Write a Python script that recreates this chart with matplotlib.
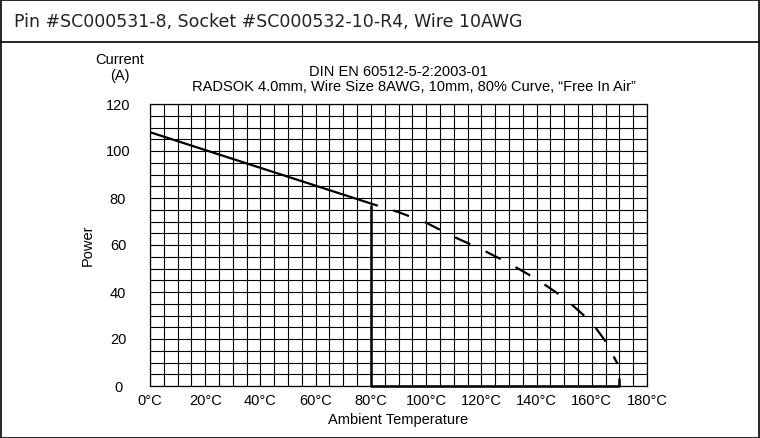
import matplotlib.pyplot as plt
from matplotlib.patches import Rectangle
from matplotlib.lines import Line2D

# Data
temp_solid = [0, 82.5]
current_solid = [108, 76.7]

temp_dashed = [82.5, 90, 100, 110, 120, 130, 140, 150, 155, 160, 165, 169.3]
current_dashed = [76.7, 74.0, 69.5, 63.5, 58.2, 52.2, 45.5, 37.5, 32.3, 27.0, 19.0, 9.5]

# Bold boundary: drop at 80°C, floor to 170°C
temp_bound = [80, 80, 170, 170]
current_bound = [77, 0, 0, 3.5]

x_ticks = [0, 20, 40, 60, 80, 100, 120, 140, 160, 180]
x_labels = ["0°C", "20°C", "40°C", "60°C", "80°C", "100°C", "120°C", "140°C", "160°C", "180°C"]
y_ticks = [0, 20, 40, 60, 80, 100, 120]

plt.rcParams["font.family"] = ["Liberation Sans", "DejaVu Sans"]

fig = plt.figure(figsize=(7.6, 4.38), dpi=100)
ax = fig.add_axes([150 / 760, 1 - 386 / 438, 497 / 760, 282 / 438])

# Grid every 5 units
ax.set_xticks(range(0, 181, 5), minor=True)
ax.set_yticks(range(0, 121, 5), minor=True)
ax.grid(which="both", color="black", linewidth=0.8)
ax.set_axisbelow(True)

ax.plot(temp_solid, current_solid, color="black", linewidth=1.6, solid_capstyle="butt")
ax.plot(temp_dashed, current_dashed, color="black", linewidth=1.6,
        linestyle=(8.0, (7.6, 7.6)), dash_capstyle="butt")
ax.plot(temp_bound, current_bound, color="black", linewidth=1.8, solid_capstyle="butt",
        clip_on=False)

ax.set_xlim(0, 180)
ax.set_ylim(0, 120)
ax.set_xticks(x_ticks)
ax.set_xticklabels(x_labels)
ax.set_yticks(y_ticks)
ax.tick_params(which="both", length=0, labelsize=10.5)
ax.tick_params(axis="x", pad=6)
ax.tick_params(axis="y", pad=23)
for lab in ax.get_yticklabels():
    lab.set_horizontalalignment("center")
for s in ax.spines.values():
    s.set_linewidth(0.9)

fig.text(88 / 760, 1 - 245 / 438, "Power", rotation=90, ha="center", va="center", fontsize=10.5)
fig.text(398 / 760, 1 - 420 / 438, "Ambient Temperature", ha="center", va="center", fontsize=10.5)
fig.text(120 / 760, 1 - 68 / 438, "Current\n(A)", ha="center", va="center", fontsize=10.5,
         linespacing=1.15)
fig.text(398 / 760, 1 - 72 / 438, "DIN EN 60512-5-2:2003-01", ha="center", va="center",
         fontsize=10.5)
fig.text(414 / 760, 1 - 87 / 438, "RADSOK 4.0mm, Wire Size 8AWG, 10mm, 80% Curve, \u201cFree In Air\u201d",
         ha="center", va="center", fontsize=10.5)

# Header box and outer frame
fig.text(14 / 760, 1 - 22 / 438, "Pin #SC000531-8, Socket #SC000532-10-R4, Wire 10AWG",
         ha="left", va="center", fontsize=12.5, family=["DejaVu Sans"], color="#222222")
fig.add_artist(Line2D([0, 1], [1 - 42 / 438] * 2, color="black", linewidth=1.2))
fig.add_artist(Rectangle((0.0007, 0.001), 0.9986, 0.998, fill=False,
                         edgecolor="black", linewidth=1.2))

fig.savefig("out.png", dpi=100)
